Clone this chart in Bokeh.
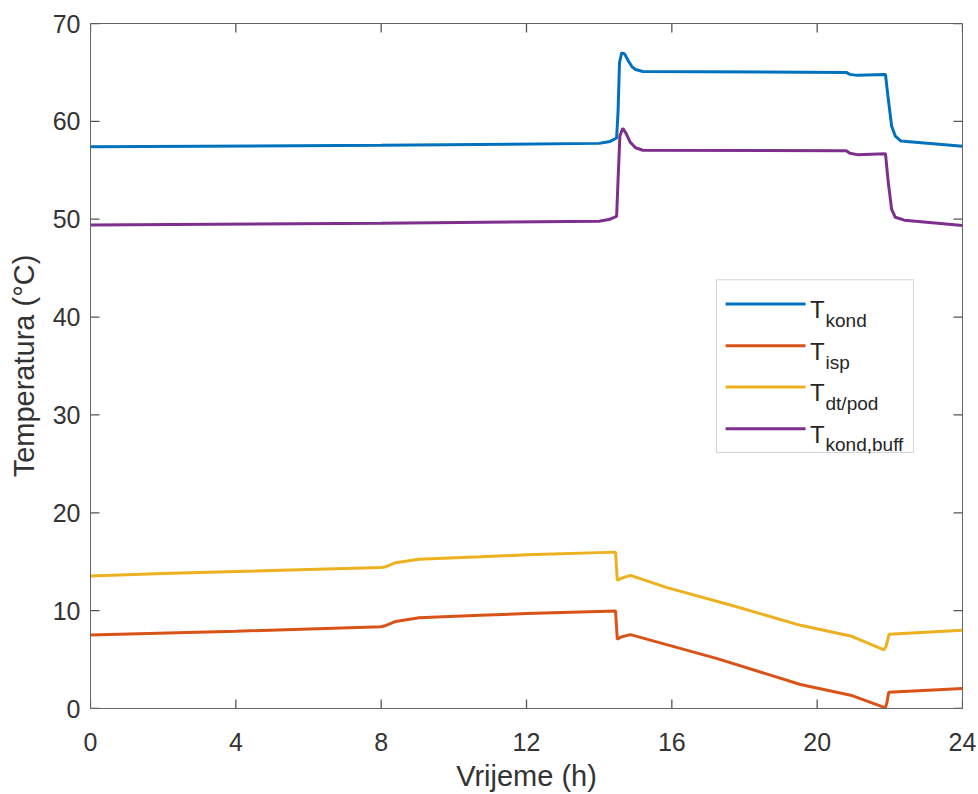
from bokeh.plotting import figure
from bokeh.models import (FixedTicker, Range1d, BoxAnnotation, Arrow, Label)
from bokeh.embed import file_html
from bokeh.resources import INLINE

# ---------------- data ----------------
t_kond = [0, 8, 14.0, 14.3, 14.48, 14.52, 14.56, 14.62, 14.7, 14.8, 14.9, 15.0, 15.2,
          20.8, 20.9, 21.1, 21.88, 21.95, 22.05, 22.15, 22.3, 24]
T_kond = [57.4, 57.55, 57.75, 57.95, 58.3, 61.0, 66.0, 67.0, 66.9, 66.2, 65.6, 65.3, 65.1,
          65.0, 64.8, 64.7, 64.8, 62.5, 59.5, 58.5, 58.0, 57.45]

t_buff = [0, 8, 14.0, 14.3, 14.48, 14.52, 14.57, 14.65, 14.75, 14.85, 15.0, 15.2,
          20.8, 20.9, 21.1, 21.88, 21.95, 22.05, 22.15, 22.4, 24]
T_buff = [49.4, 49.6, 49.8, 50.0, 50.3, 54.0, 58.5, 59.3, 58.7, 57.9, 57.3, 57.05,
          57.0, 56.75, 56.6, 56.7, 54.0, 51.0, 50.2, 49.9, 49.35]

t_pod = [0, 2, 4, 8, 8.1, 8.4, 9.04, 10.73, 12, 14.45, 14.5, 14.6, 14.86, 15.87,
         17.71, 19.54, 20.92, 21.84, 21.9, 21.98, 24]
T_pod = [13.55, 13.8, 14.0, 14.4, 14.45, 14.9, 15.25, 15.5, 15.7, 15.98, 13.1, 13.3, 13.6, 12.35,
         10.47, 8.5, 7.41, 6.0, 6.4, 7.58, 8.0]

t_isp = [0, 4, 8, 8.1, 8.4, 9.04, 10.73, 12, 14.45, 14.5, 14.6, 14.86, 17.25,
         19.54, 20.92, 21.79, 21.87, 21.92, 21.97, 24]
T_isp = [7.5, 7.9, 8.35, 8.45, 8.9, 9.28, 9.52, 9.7, 9.97, 7.07, 7.3, 7.55, 5.1,
         2.45, 1.36, 0.2, 0.0, 0.6, 1.65, 2.04]

series_names = ["kond", "isp", "dt/pod", "kond,buff"]
series_colors = ["#0072BD", "#D95319", "#EDB120", "#7E2F8E"]

x_ticks = [0, 4, 8, 12, 16, 20, 24]
y_ticks = [0, 10, 20, 30, 40, 50, 60, 70]
x_min, x_max = 0, 24
y_min, y_max = 0, 70

x_label = "Vrijeme (h)"
y_label = "Temperatura (°C)"

FONT = "Liberation Sans"
AXC = "#666666"
TXC = "#333333"

W, H = 978, 794
BL, BR, BT, BB = 90, 16, 23, 85
frame_w = W - BL - BR
frame_h = H - BT - BB

p = figure(width=W, height=H, output_backend="svg", toolbar_location=None,
           x_range=Range1d(x_min, x_max), y_range=Range1d(y_min, y_max),
           min_border_left=BL, min_border_right=BR, min_border_top=BT, min_border_bottom=BB)
p.grid.visible = False
p.background_fill_color = "white"
p.border_fill_color = "white"
p.outline_line_color = AXC
p.outline_line_width = 1

for ax, ticks in ((p.xaxis[0], x_ticks), (p.yaxis[0], y_ticks)):
    ax.ticker = FixedTicker(ticks=ticks)
    ax.major_tick_in = 0
    ax.major_tick_out = 0
    ax.minor_tick_line_color = None
    ax.axis_line_color = AXC
    ax.major_tick_line_color = None
    ax.major_label_text_font = FONT
    ax.major_label_text_font_size = "25px"
    ax.major_label_text_color = TXC
    ax.axis_label_text_font = FONT
    ax.axis_label_text_font_size = "29px"
    ax.axis_label_text_font_style = "normal"
    ax.axis_label_text_color = TXC

p.xaxis[0].axis_label = x_label
p.yaxis[0].axis_label = y_label
p.xaxis[0].major_label_standoff = 24
p.xaxis[0].axis_label_standoff = 6
p.yaxis[0].major_label_standoff = 10
p.yaxis[0].axis_label_standoff = 10

# inward ticks on all four sides (MATLAB box style), derived from the tick lists
tick_px = 9
dx = tick_px * (x_max - x_min) / frame_w
dy = tick_px * (y_max - y_min) / frame_h
TICKC = "#555555"
TICKW = 1.3
p.segment(x0=x_ticks, y0=[y_min] * len(x_ticks), x1=x_ticks, y1=[y_min + dy] * len(x_ticks),
          line_color=TICKC, line_width=TICKW)
p.segment(x0=x_ticks, y0=[y_max] * len(x_ticks), x1=x_ticks, y1=[y_max - dy] * len(x_ticks),
          line_color=TICKC, line_width=TICKW)
p.segment(x0=[x_min] * len(y_ticks), y0=y_ticks, x1=[x_min + dx] * len(y_ticks), y1=y_ticks,
          line_color=TICKC, line_width=TICKW)
p.segment(x0=[x_max] * len(y_ticks), y0=y_ticks, x1=[x_max - dx] * len(y_ticks), y1=y_ticks,
          line_color=TICKC, line_width=TICKW)

lw = 3
p.line(t_kond, T_kond, line_color=series_colors[0], line_width=lw)
p.line(t_isp, T_isp, line_color=series_colors[1], line_width=lw)
p.line(t_pod, T_pod, line_color=series_colors[2], line_width=lw)
p.line(t_buff, T_buff, line_color=series_colors[3], line_width=lw)

# ---------------- custom legend (with subscripts) ----------------
leg_left, leg_right, leg_top, leg_bottom = 17.23, 22.65, 43.81, 26.17
p.add_layout(BoxAnnotation(left=leg_left, right=leg_right, top=leg_top, bottom=leg_bottom,
                           fill_color="white", fill_alpha=1.0, line_color="#707070",
                           line_width=1, level="overlay"))
row_y = [41.33, 37.07, 32.86, 28.60]
for name, col, ry in zip(series_names, series_colors, row_y):
    p.add_layout(Arrow(x_start=17.48, y_start=ry, x_end=19.68, y_end=ry, end=None,
                       line_color=col, line_width=lw, level="overlay"))
    p.add_layout(Label(x=19.80, y=ry - 0.58, text="T", text_font=FONT, text_font_size="24px",
                       text_color="#262626", text_baseline="alphabetic", level="overlay"))
    p.add_layout(Label(x=20.23, y=ry - 1.67, text=name, text_font=FONT, text_font_size="19px",
                       text_color="#262626", text_baseline="alphabetic", level="overlay"))

open("out.html", "w").write(file_html(p, INLINE))
